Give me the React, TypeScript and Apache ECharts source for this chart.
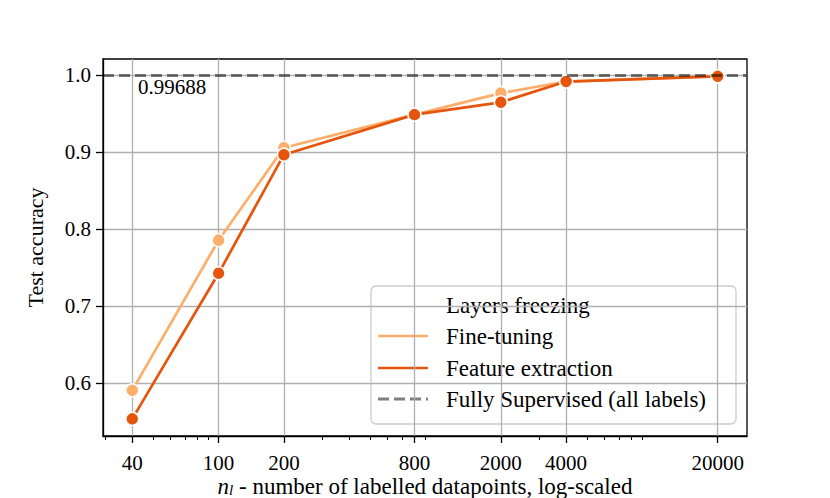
import React, { useEffect, useRef } from "react";
import * as echarts from "echarts";

const N_LABELLED = [40, 100, 200, 800, 2000, 4000, 20000];
const FINE_TUNING = [0.591, 0.786, 0.906, 0.949, 0.977, 0.992, 0.999];
const FEATURE_EXTRACTION = [0.554, 0.743, 0.897, 0.949, 0.965, 0.992, 0.9987];
const FULLY_SUPERVISED = 0.99688;
const Y_TICKS = [0.6, 0.7, 0.8, 0.9, 1.0];
const X_MINOR = [30, 50, 60, 70, 80, 90, 300, 400, 500, 600, 700, 900, 3000, 5000, 6000, 7000, 8000, 9000];

const SERIES_NAMES = ["Fine-tuning", "Feature extraction", "Fully Supervised (all labels)"];
const LEGEND_TITLE = "Layers freezing";
const C_FT = "#fdae6b";
const C_FE = "#e6550d";
const C_FS = "rgba(0,0,0,0.5)";
const FONT = "'Liberation Serif', 'Times New Roman', Times, 'DejaVu Serif', serif";

export default function App() {
  const ref = useRef<HTMLDivElement>(null);
  useEffect(() => {
    if (!ref.current) return;
    const chart = echarts.init(ref.current, undefined, { renderer: "svg" });
    const lx = (v: number) => Math.log10(v);
    const lo = lx(N_LABELLED[0]);
    const hi = lx(N_LABELLED[N_LABELLED.length - 1]);
    const pad = (hi - lo) * 0.05;
    const yLo = Math.min(...FEATURE_EXTRACTION, ...FINE_TUNING);
    const yHi = Math.max(...FEATURE_EXTRACTION, ...FINE_TUNING, FULLY_SUPERVISED);
    const yPad = (yHi - yLo) * 0.05;

    const lineSeries = (name: string, vals: number[], color: string, z: number) => ({
      name,
      type: "line",
      z,
      data: N_LABELLED.map((n, i) => [lx(n), vals[i]]),
      symbol: "circle",
      symbolSize: 13,
      lineStyle: { color, width: 2.7 },
      itemStyle: { color, borderColor: "#ffffff", borderWidth: 1.5 },
      emphasis: { disabled: true },
    });

    const legendX = 371;
    const legendY = 286;
    const rowY = [305, 336, 368, 399];
    const lineX0 = 378;
    const lineX1 = 428;
    const textX = 446;
    const txt = (text: string, y: number) => ({
      type: "text",
      x: textX,
      y,
      style: { text, fontFamily: FONT, fontSize: 23, fill: "#000", verticalAlign: "middle" },
    });

    chart.setOption({
      animation: false,
      grid: {
        left: 103,
        right: 83,
        top: 59,
        bottom: 62,
        show: true,
        borderColor: "#000",
        borderWidth: 1.3,
        backgroundColor: "transparent",
        outerBoundsMode: "none",
        containLabel: false,
      },
      xAxis: [
        {
          type: "value",
          min: lo - pad,
          max: hi + pad,
          position: "bottom",
          axisLine: { show: true, onZero: false, lineStyle: { color: "#000", width: 1.3 } },
          axisTick: {
            show: true,
            customValues: N_LABELLED.map(lx),
            length: 7,
            lineStyle: { color: "#000", width: 1.3 },
          },
          axisLabel: {
            show: true,
            customValues: N_LABELLED.map(lx),
            formatter: (v: number) => String(Math.round(Math.pow(10, v))),
            fontFamily: FONT,
            fontSize: 21,
            color: "#000",
            margin: 16,
          },
          splitLine: { show: true, lineStyle: { color: "#b0b0b0", width: 1.3 } },
          name: "{n|n}{s|l}{t| - number of labelled datapoints, log-scaled}",
          nameLocation: "middle",
          nameGap: 39,
          nameMoveOverlap: false,
          nameTextStyle: {
            fontFamily: FONT,
            fontSize: 23,
            color: "#000",
            rich: {
              n: { fontFamily: FONT, fontStyle: "italic", fontSize: 23, lineHeight: 22, color: "#000" },
              s: { fontFamily: FONT, fontStyle: "italic", fontSize: 15, lineHeight: 13, verticalAlign: "bottom", color: "#000" },
              t: { fontFamily: FONT, fontSize: 23, lineHeight: 22, color: "#000" },
            },
          },
        },
        {
          type: "value",
          min: lo - pad,
          max: hi + pad,
          position: "bottom",
          axisLine: { show: false, onZero: false },
          axisTick: {
            show: true,
            customValues: X_MINOR.map(lx),
            length: 4,
            lineStyle: { color: "#000", width: 1 },
          },
          axisLabel: { show: false },
          splitLine: { show: false },
        },
      ],
      yAxis: {
        type: "value",
        min: yLo - yPad,
        max: yHi + yPad,
        axisLine: { show: true, onZero: false, lineStyle: { color: "#000", width: 1.3 } },
        axisTick: {
          show: true,
          customValues: Y_TICKS,
          length: 7,
          lineStyle: { color: "#000", width: 1.3 },
        },
        axisLabel: {
          show: true,
          customValues: Y_TICKS,
          formatter: (v: number) => v.toFixed(1),
          fontFamily: FONT,
          fontSize: 21,
          color: "#000",
          margin: 12,
        },
        splitLine: { show: true, lineStyle: { color: "#b0b0b0", width: 1.3 } },
        name: "Test accuracy",
        nameLocation: "middle",
        nameGap: 57,
        nameMoveOverlap: false,
        nameTextStyle: { fontFamily: FONT, fontSize: 22, color: "#000" },
      },
      series: [
        lineSeries(SERIES_NAMES[0], FINE_TUNING, C_FT, 3),
        lineSeries(SERIES_NAMES[1], FEATURE_EXTRACTION, C_FE, 4),
        {
          name: SERIES_NAMES[2],
          type: "line",
          z: 6,
          data: [],
          markLine: {
            silent: true,
            symbol: ["none", "none"],
            data: [{ yAxis: FULLY_SUPERVISED }],
            lineStyle: { color: C_FS, width: 3, type: [11, 5] },
            label: {
              show: true,
              position: "insideStartBottom",
              formatter: () => String(FULLY_SUPERVISED),
              fontFamily: FONT,
              fontSize: 21,
              color: "#000",
              distance: 1,
              padding: [0, 0, 0, 34],
            },
          },
        },
      ],
      graphic: [
        {
          type: "group",
          z: 100,
          children: [
            {
              type: "rect",
              shape: { x: legendX, y: legendY, width: 365, height: 138, r: 5 },
              style: { fill: "rgba(255,255,255,0.8)", stroke: "#cccccc", lineWidth: 1.3 },
            },
            txt(LEGEND_TITLE, rowY[0]),
            {
              type: "line",
              shape: { x1: lineX0, y1: rowY[1], x2: lineX1, y2: rowY[1] },
              style: { stroke: C_FT, lineWidth: 2.7 },
            },
            txt(SERIES_NAMES[0], rowY[1]),
            {
              type: "line",
              shape: { x1: lineX0, y1: rowY[2], x2: lineX1, y2: rowY[2] },
              style: { stroke: C_FE, lineWidth: 2.7 },
            },
            txt(SERIES_NAMES[1], rowY[2]),
            {
              type: "line",
              shape: { x1: lineX0, y1: rowY[3], x2: lineX1, y2: rowY[3] },
              style: { stroke: C_FS, lineWidth: 3, lineDash: [11, 5] },
            },
            txt(SERIES_NAMES[2], rowY[3]),
          ],
        },
      ],
    });
    return () => chart.dispose();
  }, []);
  return (
    <div
      ref={ref}
      style={{ position: "fixed", left: 0, top: 0, width: 830, height: 498, background: "#fff" }}
    />
  );
}
